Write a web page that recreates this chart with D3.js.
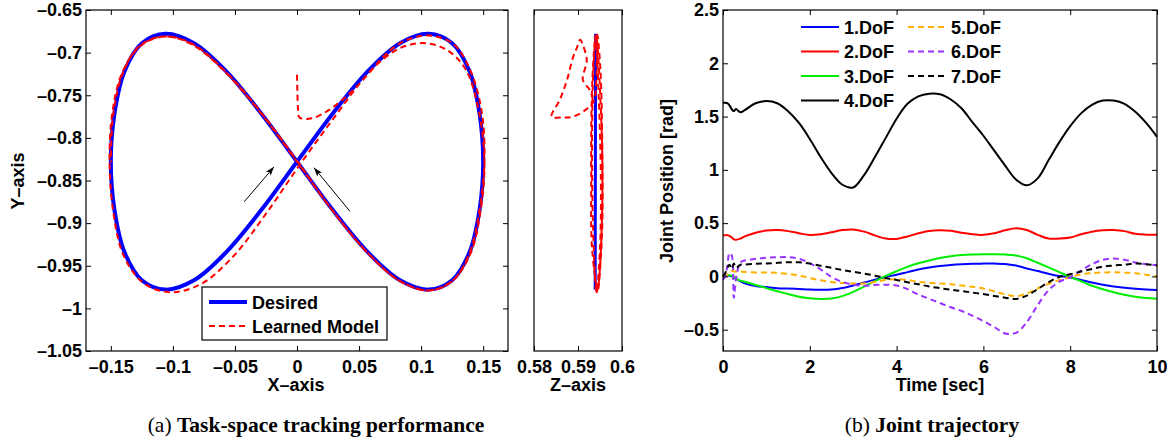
<!DOCTYPE html>
<html>
<head>
<meta charset="utf-8">
<script src="https://cdn.jsdelivr.net/npm/d3@7"></script>
<style>
  body { margin: 0; background: #fff; }
  svg { display: block; }
  .tick text { font-family: "Liberation Sans", Arial, sans-serif; font-weight: bold; font-size: 18px; fill: #000; }
  .tick line { stroke: #000; }
  .lab { font-family: "Liberation Sans", Arial, sans-serif; font-weight: bold; font-size: 18px; fill: #000; }
  .cap { font-family: "Liberation Serif", "Times New Roman", serif; font-size: 21.5px; fill: #000; }
</style>
</head>
<body>
<svg id="fig" width="1174" height="440"></svg>
<script>
// ---- task-space: desired figure-eight (x, y) ----
const desiredX = [0, 0.029, 0.057, 0.083, 0.106, 0.125, 0.139, 0.147, 0.150, 0.147, 0.139, 0.125, 0.106, 0.083, 0.057, 0.029,
  0, -0.029, -0.057, -0.083, -0.106, -0.125, -0.139, -0.147, -0.150, -0.147, -0.139, -0.125, -0.106, -0.083, -0.057, -0.029];
const desiredY = [-0.828, -0.771, -0.722, -0.689, -0.678, -0.689, -0.722, -0.771, -0.828, -0.885, -0.934, -0.967, -0.978, -0.967, -0.934, -0.885,
  -0.828, -0.771, -0.722, -0.689, -0.678, -0.689, -0.722, -0.771, -0.828, -0.885, -0.934, -0.967, -0.978, -0.967, -0.934, -0.885];

// ---- task-space: learned model (x, y) ----
const learnedX = [0.000, 0.0003, 0.0008, 0.002, 0.012, 0.024, 0.036, 0.050,
  0.066, 0.084, 0.104, 0.122, 0.136, 0.146, 0.151, 0.148, 0.140, 0.125, 0.106, 0.083, 0.057, 0.029, 0.001,
  -0.028, -0.057, -0.084, -0.106, -0.126, -0.141, -0.149, -0.151, -0.148, -0.140, -0.124, -0.103, -0.078, -0.052, -0.025, 0.002, 0.030,
  0.057, 0.083, 0.106, 0.126, 0.140, 0.149, 0.151, 0.147, 0.139, 0.125, 0.106, 0.083, 0.057, 0.029, 0.001,
  -0.028, -0.057, -0.084, -0.106, -0.126, -0.140, -0.148, -0.150];
const learnedY = [-0.726, -0.745, -0.765, -0.776, -0.777, -0.769, -0.756, -0.737,
  -0.712, -0.694, -0.689, -0.698, -0.720, -0.765, -0.828, -0.885, -0.935, -0.968, -0.979, -0.968, -0.935, -0.886, -0.830,
  -0.773, -0.724, -0.691, -0.681, -0.692, -0.724, -0.773, -0.830, -0.887, -0.937, -0.970, -0.981, -0.972, -0.940, -0.889, -0.832, -0.776,
  -0.725, -0.689, -0.680, -0.690, -0.722, -0.771, -0.828, -0.885, -0.935, -0.968, -0.979, -0.968, -0.935, -0.886, -0.829,
  -0.772, -0.723, -0.690, -0.681, -0.691, -0.723, -0.772, -0.829];

// ---- Z panel ----
const desiredZ = [0.5940, 0.5939];
const desiredZY = [-0.678, -0.978];
const learnedZ = [0.5934, 0.5927, 0.5911, 0.5920, 0.5911, 0.5905, 0.5897, 0.5889, 0.5875, 0.5859, 0.5840, 0.5865, 0.5889, 0.5920, 0.5936,
  0.5941, 0.5943, 0.5944, 0.5951, 0.5955, 0.5956, 0.5952, 0.5945, 0.5932, 0.5930, 0.5931, 0.5936, 0.5940,
  0.5947, 0.5952, 0.5950, 0.5942, 0.5934, 0.5932, 0.5935, 0.5941, 0.5953, 0.5955, 0.5947, 0.5942];
const learnedZY = [-0.755, -0.744, -0.732, -0.709, -0.691, -0.685, -0.695, -0.705, -0.732, -0.755, -0.775, -0.776, -0.775, -0.766, -0.757,
  -0.740, -0.700, -0.679, -0.720, -0.800, -0.880, -0.940, -0.978, -0.930, -0.850, -0.760, -0.700, -0.680,
  -0.750, -0.850, -0.930, -0.981, -0.900, -0.800, -0.720, -0.679, -0.780, -0.880, -0.970, -0.982];

// ---- joint trajectories ----
const timeSec = [0, 0.05, 0.1, 0.15, 0.2, 0.25, 0.3, 0.4, 0.5, 0.75, 1, 1.25, 1.5, 1.75, 2, 2.25, 2.5, 2.75, 3, 3.25, 3.5, 3.75,
  4, 4.25, 4.5, 4.75, 5, 5.25, 5.5, 5.75, 6, 6.25, 6.5, 6.75, 7, 7.25, 7.5, 7.75, 8, 8.25, 8.5, 8.75, 9, 9.25, 9.5, 9.75, 10];
const dof1 = [0, 0.005, 0.008, 0.006, 0, -0.01, -0.02, -0.045, -0.065, -0.09, -0.1, -0.11, -0.114, -0.118, -0.123, -0.125, -0.122, -0.108, -0.085, -0.058, -0.03, -0.005,
  0.015, 0.04, 0.065, 0.083, 0.097, 0.108, 0.115, 0.119, 0.12, 0.12, 0.117, 0.102, 0.075, 0.05, 0.025, 0.003, -0.01, -0.033, -0.058, -0.078, -0.095, -0.107, -0.116, -0.122, -0.128];
const dof2 = [0.385, 0.387, 0.387, 0.38, 0.365, 0.348, 0.345, 0.355, 0.375, 0.41, 0.43, 0.435, 0.425, 0.405, 0.388, 0.395, 0.415, 0.435, 0.44, 0.42, 0.385, 0.355,
  0.352, 0.375, 0.405, 0.427, 0.433, 0.428, 0.41, 0.395, 0.39, 0.405, 0.433, 0.452, 0.435, 0.39, 0.355, 0.355, 0.365, 0.395, 0.42, 0.433, 0.435, 0.425, 0.4, 0.392, 0.39];
const dof3 = [0, 0.005, 0.01, 0.01, 0.005, -0.005, -0.02, -0.04, -0.05, -0.08, -0.11, -0.14, -0.165, -0.19, -0.205, -0.212, -0.208, -0.185, -0.145, -0.095, -0.045, 0.005,
  0.048, 0.09, 0.123, 0.15, 0.173, 0.19, 0.2, 0.205, 0.207, 0.207, 0.205, 0.197, 0.17, 0.128, 0.085, 0.04, -0.005, -0.045, -0.088, -0.12, -0.148, -0.172, -0.19, -0.203, -0.21];
const dof4 = [1.63, 1.63, 1.625, 1.605, 1.57, 1.55, 1.57, 1.54, 1.56, 1.625, 1.645, 1.625, 1.55, 1.44, 1.29, 1.12, 0.97, 0.86, 0.835, 0.95, 1.12, 1.3,
  1.48, 1.62, 1.69, 1.715, 1.71, 1.66, 1.575, 1.445, 1.32, 1.18, 1.04, 0.91, 0.855, 0.92, 1.09, 1.26, 1.41, 1.53, 1.61, 1.65, 1.65, 1.62, 1.545, 1.44, 1.31];
const dof5 = [0, 0, 0.02, 0.04, 0.05, 0.048, 0.045, 0.045, 0.042, 0.037, 0.037, 0.033, 0.024, 0.01, -0.015, -0.037, -0.052, -0.062, -0.067, -0.066, -0.052, -0.032,
  -0.026, -0.033, -0.05, -0.06, -0.066, -0.073, -0.085, -0.098, -0.113, -0.14, -0.168, -0.185, -0.16, -0.113, -0.07, -0.035, -0.008, 0.018, 0.03, 0.037, 0.038, 0.035, 0.03, 0.015, 0];
const dof6 = [-0.03, 0, 0.1, 0.22, 0.2, -0.2, -0.02, 0.13, 0.15, 0.165, 0.175, 0.18, 0.18, 0.165, 0.125, 0.065, -0.005, -0.052, -0.077, -0.087, -0.08, -0.078,
  -0.085, -0.12, -0.17, -0.21, -0.25, -0.29, -0.325, -0.37, -0.42, -0.475, -0.535, -0.53, -0.43, -0.27, -0.13, -0.05, -0.008, 0.055, 0.115, 0.155, 0.167, 0.157, 0.13, 0.115, 0.104];
const dof7 = [0, 0.03, 0.08, 0.11, 0.07, 0.12, 0.08, 0.11, 0.112, 0.118, 0.122, 0.127, 0.133, 0.132, 0.12, 0.1, 0.08, 0.06, 0.043, 0.027, 0.007, -0.015,
  -0.034, -0.055, -0.074, -0.094, -0.11, -0.125, -0.138, -0.152, -0.166, -0.183, -0.2, -0.212, -0.18, -0.12, -0.055, -0.005, 0.02, 0.046, 0.07, 0.092, 0.102, 0.11, 0.12, 0.115, 0.104];

const dofNames = ["1.DoF", "2.DoF", "3.DoF", "4.DoF", "5.DoF", "6.DoF", "7.DoF"];

// ---- ticks ----
const xyXTicks = [-0.15, -0.1, -0.05, 0, 0.05, 0.1, 0.15];
const xyYTicks = [-1.05, -1, -0.95, -0.9, -0.85, -0.8, -0.75, -0.7, -0.65];
const zTicks = [0.58, 0.59, 0.6];
const timeTicks = [0, 2, 4, 6, 8, 10];
const jointTicks = [-0.5, 0, 0.5, 1, 1.5, 2, 2.5];

// arrows pointing at the crossing (data coords: from -> to)
const arrowFrom = [[-0.0426, -0.875], [0.0426, -0.886]];
const arrowTo = [[-0.0185, -0.834], [0.0137, -0.835]];

const svg = d3.select("#fig");
const fmt = d => d === 0 ? "0" : (d < 0 ? "\u2013" : "") + String(Math.abs(d));

const defs = svg.append("defs");
defs.append("marker")
  .attr("id", "arrowHead")
  .attr("viewBox", "0 0 10 10")
  .attr("refX", 10).attr("refY", 5)
  .attr("markerWidth", 9).attr("markerHeight", 9)
  .attr("markerUnits", "userSpaceOnUse")
  .attr("orient", "auto")
  .append("path")
  .attr("d", "M0,1.5 L10,5 L0,8.5 L2.5,5 Z")
  .attr("fill", "#000");

// draws a MATLAB-style box with inward ticks
function frame(x, y, xTicks, yTicks, yLabels) {
  const [x0, x1] = x.range();
  const [y1, y0] = y.range();
  const g = svg.append("g");

  g.append("g").attr("class", "xax").attr("transform", `translate(0,${y1})`)
    .call(d3.axisBottom(x).tickValues(xTicks).tickSize(-5).tickPadding(9).tickFormat(fmt))
    .call(a => a.select(".domain").remove());
  g.append("g").attr("transform", `translate(0,${y0})`)
    .call(d3.axisTop(x).tickValues(xTicks).tickSize(-5).tickFormat(""))
    .call(a => a.select(".domain").remove());
  if (yTicks) {
    g.append("g").attr("transform", `translate(${x0},0)`)
      .call(d3.axisLeft(y).tickValues(yTicks).tickSize(-5).tickPadding(4).tickFormat(yLabels ? fmt : ""))
      .call(a => a.select(".domain").remove());
    g.append("g").attr("transform", `translate(${x1},0)`)
      .call(d3.axisRight(y).tickValues(yTicks).tickSize(-5).tickFormat(""))
      .call(a => a.select(".domain").remove());
  }
  g.append("rect")
    .attr("x", x0).attr("y", y0)
    .attr("width", x1 - x0).attr("height", y1 - y0)
    .attr("fill", "none").attr("stroke", "#000").attr("stroke-width", 1.2);
  return g;
}

// ================= (a) X-Y panel =================
const xXY = d3.scaleLinear([-0.17, 0.17], [86, 508]);
const yXY = d3.scaleLinear([-1.05, -0.65], [351, 10]);

const desiredPts = desiredX.map((v, i) => [v, desiredY[i]]);
const learnedPts = learnedX.map((v, i) => [v, learnedY[i]]);

svg.append("path")
  .attr("d", d3.line().x(d => xXY(d[0])).y(d => yXY(d[1])).curve(d3.curveCatmullRomClosed)(desiredPts))
  .attr("fill", "none").attr("stroke", "#0000ff").attr("stroke-width", 4);
svg.append("path")
  .attr("d", d3.line().x(d => xXY(d[0])).y(d => yXY(d[1])).curve(d3.curveCatmullRom)(learnedPts))
  .attr("fill", "none").attr("stroke", "#ff0000").attr("stroke-width", 2)
  .attr("stroke-dasharray", "6,4");

arrowFrom.forEach((f, i) => {
  svg.append("line")
    .attr("x1", xXY(f[0])).attr("y1", yXY(f[1]))
    .attr("x2", xXY(arrowTo[i][0])).attr("y2", yXY(arrowTo[i][1]))
    .attr("stroke", "#000").attr("stroke-width", 1)
    .attr("marker-end", "url(#arrowHead)");
});

frame(xXY, yXY, xyXTicks, xyYTicks, true);

// legend
const lg = svg.append("g");
lg.append("rect").attr("x", 202).attr("y", 287).attr("width", 185).attr("height", 53)
  .attr("fill", "#fff").attr("stroke", "#000").attr("stroke-width", 1.2);
lg.append("line").attr("x1", 209).attr("x2", 247).attr("y1", 302).attr("y2", 302)
  .attr("stroke", "#0000ff").attr("stroke-width", 4);
lg.append("line").attr("x1", 209).attr("x2", 247).attr("y1", 326).attr("y2", 326)
  .attr("stroke", "#ff0000").attr("stroke-width", 2).attr("stroke-dasharray", "6,4");
lg.append("text").attr("class", "lab").attr("x", 252).attr("y", 309).text("Desired");
lg.append("text").attr("class", "lab").attr("x", 252).attr("y", 333).text("Learned Model");

svg.append("text").attr("class", "lab").attr("x", 296).attr("y", 391)
  .attr("text-anchor", "middle").text("X\u2013axis");
svg.append("text").attr("class", "lab")
  .attr("transform", "translate(24,181) rotate(-90)")
  .attr("text-anchor", "middle").text("Y\u2013axis");

// ================= Z panel =================
const xZ = d3.scaleLinear([0.58, 0.6], [534, 622]);

svg.append("path")
  .attr("d", d3.line().x(d => xZ(d[0])).y(d => yXY(d[1]))(desiredZ.map((v, i) => [v, desiredZY[i]])))
  .attr("fill", "none").attr("stroke", "#0000ff").attr("stroke-width", 3);
svg.append("path")
  .attr("d", d3.line().x(d => xZ(d[0])).y(d => yXY(d[1])).curve(d3.curveCatmullRom)(learnedZ.map((v, i) => [v, learnedZY[i]])))
  .attr("fill", "none").attr("stroke", "#ff0000").attr("stroke-width", 2)
  .attr("stroke-dasharray", "6,4");

frame(xZ, yXY, zTicks, null, false);
svg.append("text").attr("class", "lab").attr("x", 578).attr("y", 391)
  .attr("text-anchor", "middle").text("Z\u2013axis");

// ================= (b) joint trajectories =================
const xT = d3.scaleLinear([0, 10], [723, 1157]);
const yJ = d3.scaleLinear([-0.7, 2.5], [351, 10]);

const series = [
  { name: dofNames[0], values: dof1, color: "#0000ff", dash: null },
  { name: dofNames[1], values: dof2, color: "#ff0000", dash: null },
  { name: dofNames[2], values: dof3, color: "#00ee00", dash: null },
  { name: dofNames[3], values: dof4, color: "#000000", dash: null },
  { name: dofNames[4], values: dof5, color: "#ffb000", dash: "6,4" },
  { name: dofNames[5], values: dof6, color: "#9933ff", dash: "6,4" },
  { name: dofNames[6], values: dof7, color: "#000000", dash: "6,4" }
];

const jointLine = d3.line().x((d, i) => xT(timeSec[i])).y(d => yJ(d)).curve(d3.curveCatmullRom);

svg.append("g").selectAll("path")
  .data(series)
  .join("path")
  .attr("d", s => jointLine(s.values))
  .attr("fill", "none")
  .attr("stroke", s => s.color)
  .attr("stroke-width", 2)
  .attr("stroke-dasharray", s => s.dash);

frame(xT, yJ, timeTicks, jointTicks, true);

// legend, two columns, no box
const leg = svg.append("g");
series.forEach((s, i) => {
  const col = i < 4 ? 0 : 1;
  const row = i < 4 ? i : i - 4;
  const lx = col === 0 ? 801 : 908;
  const ly = 27 + row * 24.5;
  leg.append("line").attr("x1", lx).attr("x2", lx + 38).attr("y1", ly).attr("y2", ly)
    .attr("stroke", s.color).attr("stroke-width", 2).attr("stroke-dasharray", s.dash);
  leg.append("text").attr("class", "lab").attr("x", lx + 43).attr("y", ly + 6.5).text(s.name);
});

svg.append("text").attr("class", "lab").attr("x", 940).attr("y", 391)
  .attr("text-anchor", "middle").text("Time [sec]");
svg.append("text").attr("class", "lab")
  .attr("transform", "translate(673,181) rotate(-90)")
  .attr("text-anchor", "middle").text("Joint Position [rad]");

// ================= captions =================
const capA = svg.append("text").attr("class", "cap").attr("x", 316).attr("y", 432).attr("text-anchor", "middle");
capA.append("tspan").text("(a) ");
capA.append("tspan").attr("font-weight", "bold").text("Task-space tracking performance");
const capB = svg.append("text").attr("class", "cap").attr("x", 932).attr("y", 432).attr("text-anchor", "middle");
capB.append("tspan").text("(b) ");
capB.append("tspan").attr("font-weight", "bold").text("Joint trajectory");
</script>
</body>
</html>
